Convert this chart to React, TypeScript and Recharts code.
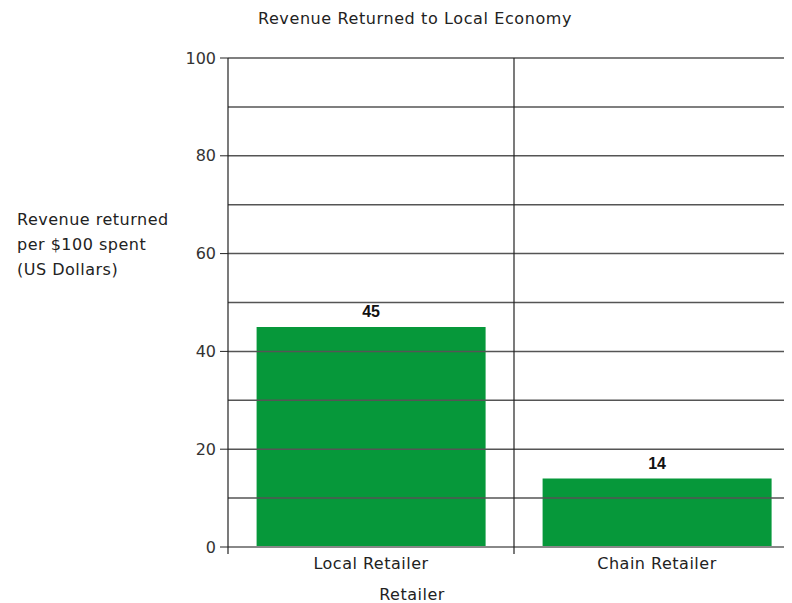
import React from 'react';
import {
  BarChart,
  Bar,
  XAxis,
  YAxis,
  ReferenceLine,
  LabelList,
} from 'recharts';

const retailers = ['Local Retailer', 'Chain Retailer'];
const revenueReturned = [45, 14];
const yTicks = [0, 20, 40, 60, 80, 100];
const gridValues = [10, 20, 30, 40, 50, 60, 70, 80, 90, 100];
const yLabelLines = ['Revenue returned', 'per $100 spent', '(US Dollars)'];

const data = retailers.map((name, i) => ({ name, value: revenueReturned[i] }));

const FONT = '"DejaVu Sans", Verdana, sans-serif';
const TEXT = '#222';
const LINE = '#555';
const MARGIN = { top: 50, right: 8, bottom: 0, left: 0 };
const PLOT_BOTTOM = 539;

// category tick: label plus the divider line between the two groups
const RetailerTick = (props: any) => {
  const { x, y, payload, index } = props;
  const half = payload.offset ?? 0;
  return (
    <g>
      <text
        x={x}
        y={y + 14}
        textAnchor="middle"
        fontFamily={FONT}
        fontSize={16}
        letterSpacing={0.5}
        fill={TEXT}
      >
        {payload.value}
      </text>
      {index === 0 && (
        <line x1={x + half} x2={x + half} y1={MARGIN.top} y2={PLOT_BOTTOM + 7} stroke="#222" strokeWidth={1.2} />
      )}
      {index === 0 && (
        <line x1={x - half} x2={x - half} y1={PLOT_BOTTOM} y2={PLOT_BOTTOM + 7} stroke="#222" strokeWidth={1.2} />
      )}
    </g>
  );
};

const YAxisTitle = () => (
  <text x={9} y={217} fontFamily={FONT} fontSize={16} letterSpacing={0.5} fill={TEXT}>
    {yLabelLines.map((line, i) => (
      <tspan key={line} x={9} dy={i === 0 ? 0 : 25}>
        {line}
      </tspan>
    ))}
  </text>
);

export default function App() {
  return (
    <div style={{ width: 784, height: 595, overflow: 'hidden', background: '#fff' }}>
      <div style={{ position: 'relative', width: 800, height: 595 }}>
        <div
          style={{
            position: 'absolute',
            top: 1,
            left: 0,
            width: 800,
            textAlign: 'center',
            paddingLeft: 14,
            boxSizing: 'border-box',
            fontFamily: FONT,
            fontSize: 16,
            letterSpacing: 0.6,
            color: TEXT,
          }}
        >
          Revenue Returned to Local Economy
        </div>
        <BarChart width={800} height={595} data={data} margin={MARGIN} barCategoryGap="10%">
          {gridValues.map(v => (
            <ReferenceLine key={v} y={v} stroke={LINE} strokeWidth={1.5} />
          ))}
          <XAxis
            dataKey="name"
            height={56}
            axisLine={{ stroke: '#888', strokeWidth: 2 }}
            tickLine={false}
            tick={<RetailerTick />}
            interval={0}
            label={{
              value: 'Retailer',
              position: 'insideBottom',
              offset: 3,
              dx: -102,
              fontFamily: FONT,
              fontSize: 16,
              letterSpacing: 0.5,
              fill: TEXT,
            }}
          />
          <YAxis
            width={220}
            domain={[0, 100]}
            ticks={yTicks}
            interval={0}
            axisLine={{ stroke: '#222', strokeWidth: 1.2 }}
            tickLine={{ stroke: '#222' }}
            tickSize={8}
            tickMargin={4}
            tick={{ fontFamily: FONT, fontSize: 16, fill: '#333' }}
            label={<YAxisTitle />}
          />
          <Bar dataKey="value" fill="#06983A" isAnimationActive={false}>
            <LabelList
              dataKey="value"
              position="top"
              offset={10}
              style={{ fontFamily: '"Liberation Sans", Arial, sans-serif', fontSize: 16, fontWeight: 700, fill: '#111' }}
            />
          </Bar>
        </BarChart>
      </div>
    </div>
  );
}
